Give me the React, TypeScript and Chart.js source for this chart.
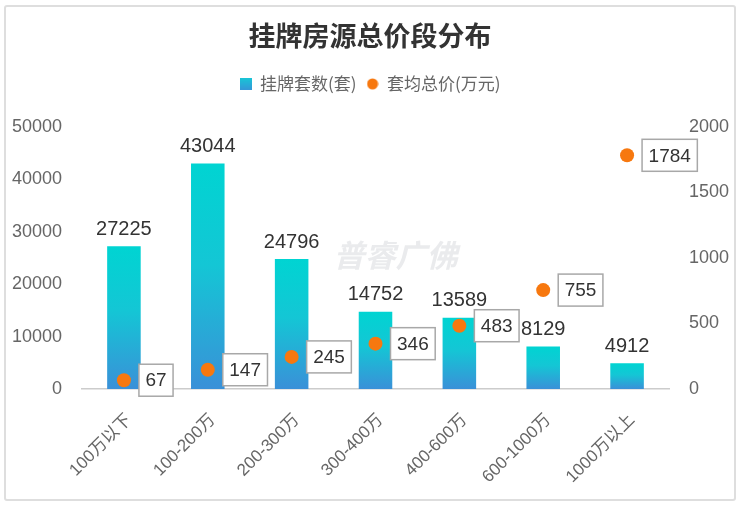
import React, { useEffect, useRef } from 'react';
import { Chart, registerables } from 'chart.js';

Chart.register(...registerables);

const titleText = '挂牌房源总价段分布';
const seriesNames = ['挂牌套数(套)', '套均总价(万元)'];
const categories = ['100万以下', '100-200万', '200-300万', '300-400万', '400-600万', '600-1000万', '1000万以上'];
const listingCounts = [27225, 43044, 24796, 14752, 13589, 8129, 4912];
const avgPrices = [67, 147, 245, 346, 483, 755, 1784];
const leftAxis = { min: 0, max: 50000, step: 10000 };
const rightAxis = { min: 0, max: 2000, step: 500 };
const watermarkText = '普睿广佛';

const FONT = "'Liberation Sans', 'Noto Sans CJK SC', sans-serif";
const CJK = "'Noto Sans CJK SC', 'Liberation Sans', sans-serif";
const CYAN = '#00d4d2';
const BLUE = '#3a90d8';
const ORANGE = '#f7780f';

function makeSquareIcon(): HTMLCanvasElement {
  const c = document.createElement('canvas');
  c.width = 12;
  c.height = 12;
  const g = c.getContext('2d')!;
  const gr = g.createLinearGradient(0, 0, 0, 12);
  gr.addColorStop(0, '#18c6d6');
  gr.addColorStop(1, '#3597d8');
  g.fillStyle = gr;
  g.fillRect(0, 0, 12, 12);
  return c;
}

function makeCircleIcon(): HTMLCanvasElement {
  const c = document.createElement('canvas');
  c.width = 12;
  c.height = 12;
  const g = c.getContext('2d')!;
  g.fillStyle = ORANGE;
  g.beginPath();
  g.arc(6, 6, 5.5, 0, Math.PI * 2);
  g.fill();
  return c;
}

const labelPlugin = {
  id: 'valueLabels',
  beforeDatasetsDraw(chart: any) {
    const { ctx } = chart;
    const xs = chart.scales.x;
    const ys = chart.scales.y;
    ctx.save();
    ctx.font = `italic bold 31px ${CJK}`;
    ctx.fillStyle = 'rgba(185,190,195,0.3)';
    ctx.textAlign = 'left';
    ctx.textBaseline = 'middle';
    const x0 = (xs.getPixelForValue(2) + xs.getPixelForValue(3)) / 2;
    ctx.fillText(watermarkText, x0, ys.getPixelForValue(25600));
    ctx.restore();
  },
  afterDatasetsDraw(chart: any) {
    const { ctx } = chart;
    ctx.save();
    const barMeta = chart.getDatasetMeta(0);
    ctx.font = `20px ${FONT}`;
    ctx.fillStyle = '#333';
    ctx.textAlign = 'center';
    ctx.textBaseline = 'bottom';
    barMeta.data.forEach((el: any, i: number) => {
      ctx.fillText(String(listingCounts[i]), el.x, el.y - 7);
    });
    const ptMeta = chart.getDatasetMeta(1);
    ctx.font = `19px ${FONT}`;
    ctx.textBaseline = 'middle';
    ptMeta.data.forEach((el: any, i: number) => {
      const t = String(avgPrices[i]);
      const w = ctx.measureText(t).width + 13;
      const h = 32;
      const bx = el.x + 15;
      const by = el.y - h / 2;
      ctx.fillStyle = '#ffffff';
      ctx.fillRect(bx, by, w, h);
      ctx.strokeStyle = '#a8a8a8';
      ctx.lineWidth = 1.5;
      ctx.strokeRect(bx, by, w, h);
      ctx.fillStyle = '#333';
      ctx.textAlign = 'left';
      ctx.fillText(t, bx + 6.5, el.y + 1);
    });
    ctx.restore();
  },
};

export default function App() {
  const ref = useRef<HTMLCanvasElement>(null);

  useEffect(() => {
    if (!ref.current) return;
    const squareIcon = makeSquareIcon();
    const circleIcon = makeCircleIcon();
    const chart = new Chart(ref.current, {
      type: 'bar',
      data: {
        labels: categories,
        datasets: [
          {
            type: 'bar',
            label: seriesNames[0],
            data: listingCounts,
            yAxisID: 'y',
            barPercentage: 0.5,
            categoryPercentage: 0.8,
            borderWidth: 0,
            backgroundColor: (c: any) => {
              const ch = c.chart;
              if (!ch.chartArea || !ch.scales.y || c.raw == null) return CYAN;
              const top = ch.scales.y.getPixelForValue(c.raw);
              const base = ch.scales.y.getPixelForValue(0);
              if (!isFinite(top) || !isFinite(base) || base - top < 1) return CYAN;
              const g = ch.ctx.createLinearGradient(0, top, 0, base);
              g.addColorStop(0, CYAN);
              g.addColorStop(0.45, '#14c6d5');
              g.addColorStop(1, BLUE);
              return g;
            },
            order: 2,
          } as any,
          {
            type: 'line',
            label: seriesNames[1],
            data: avgPrices,
            yAxisID: 'y1',
            showLine: false,
            pointRadius: 7,
            pointHoverRadius: 7,
            pointBackgroundColor: ORANGE,
            pointBorderWidth: 0,
            backgroundColor: ORANGE,
            borderColor: ORANGE,
            order: 1,
          } as any,
        ],
      },
      options: {
        responsive: false,
        animation: false,
        layout: { padding: { left: 0, right: 0, top: 0, bottom: 0 } },
        plugins: {
          title: {
            display: true,
            text: titleText,
            color: '#333',
            font: { family: CJK, size: 27, weight: 'bold' },
            padding: { top: 20, bottom: 13 },
          },
          subtitle: {
            display: true,
            text: ' ',
            weight: 500,
            font: { size: 1, lineHeight: 1 },
            padding: { top: 23.6, bottom: 0 },
          } as any,
          legend: {
            display: true,
            position: 'top',
            labels: {
              usePointStyle: true,
              boxWidth: 12,
              boxHeight: 12,
              padding: 10,
              color: '#666',
              font: { family: CJK, size: 17 },
              sort: (a: any, b: any) => a.datasetIndex - b.datasetIndex,
              generateLabels: (ch: any) => {
                const items = Chart.defaults.plugins.legend.labels.generateLabels(ch);
                items.forEach((it: any) => {
                  it.pointStyle = it.datasetIndex === 0 ? squareIcon : circleIcon;
                });
                return items;
              },
            },
          },
          tooltip: { enabled: false },
        },
        scales: {
          x: {
            offset: true,
            grid: { display: false },
            border: { display: true, color: '#cccccc', width: 1.5 },
            ticks: {
              color: '#666',
              font: { family: FONT, size: 17 },
              minRotation: 45,
              maxRotation: 45,
              autoSkip: false,
              padding: 13,
              labelOffset: 5,
            },
            afterFit: (s: any) => {
              s.height = 116;
            },
          },
          y: {
            position: 'left',
            min: leftAxis.min,
            max: leftAxis.max,
            grid: { display: false },
            border: { display: false },
            ticks: {
              stepSize: leftAxis.step,
              color: '#666',
              font: { family: FONT, size: 18 },
              padding: 12,
              callback: (v: any) => String(v),
            },
            afterFit: (s: any) => {
              s.width = 82;
            },
          },
          y1: {
            position: 'right',
            min: rightAxis.min,
            max: rightAxis.max,
            grid: { display: false },
            border: { display: false },
            ticks: {
              stepSize: rightAxis.step,
              color: '#666',
              font: { family: FONT, size: 18 },
              padding: 12,
              callback: (v: any) => String(v),
            },
            afterFit: (s: any) => {
              s.width = 71;
            },
          },
        },
      },
      plugins: [labelPlugin],
    } as any);
    return () => chart.destroy();
  }, []);

  return (
    <div style={{ position: 'fixed', left: 0, top: 0, width: 740, height: 505, background: '#fff' }}>
      <canvas ref={ref} width={740} height={505} style={{ position: 'absolute', left: 0, top: 0, width: 740, height: 505 }} />
      <div
        style={{
          position: 'absolute',
          left: 4,
          top: 5,
          width: 728,
          height: 492,
          border: '2px solid #dedede',
          borderRadius: 3,
          pointerEvents: 'none',
        }}
      />
    </div>
  );
}
